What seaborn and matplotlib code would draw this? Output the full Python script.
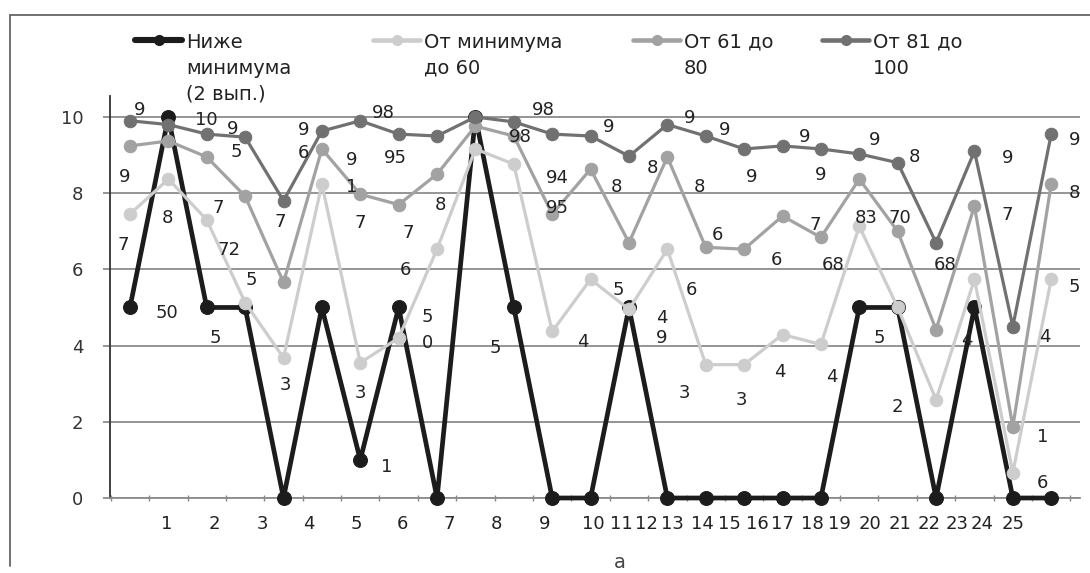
import matplotlib
matplotlib.use('Agg')
import matplotlib.pyplot as plt
from matplotlib.lines import Line2D
import pandas as pd
import seaborn as sns

# Data
points = list(range(25))
below_min = [5, 10, 5, 5, 0, 5, 1, 5, 0, 10, 5, 0, 0, 5, 0, 0, 0, 0, 0, 5, 5, 0, 5, 0, 0]
min_to_60 = [7.45, 8.37, 7.3, 5.13, 3.68, 8.24, 3.55, 4.2, 6.53, 9.16, 8.76, 4.37, 5.74,
             4.95, 6.53, 3.5, 3.5, 4.29, 4.03, 7.13, 5.0, 2.58, 5.74, 0.66, 5.74]
from_61_to_80 = [9.24, 9.37, 8.95, 7.92, 5.66, 9.16, 7.97, 7.7, 8.5, 9.76, 9.5, 7.45, 8.63,
                 6.7, 8.95, 6.58, 6.53, 7.4, 6.84, 8.37, 7.0, 4.42, 7.66, 1.87, 8.24]
from_81_to_100 = [9.9, 9.8, 9.55, 9.47, 7.8, 9.63, 9.9, 9.55, 9.5, 10.0, 9.87, 9.55, 9.5,
                  8.97, 9.8, 9.5, 9.16, 9.24, 9.16, 9.03, 8.8, 6.7, 9.1, 4.5, 9.55]
series_names = ['Ниже\nминимума\n(2 вып.)', 'От минимума\nдо 60', 'От 61 до\n80', 'От 81 до\n100']
tick_labels = [str(i) for i in range(1, 26)]
# where the (squeezed) category labels sit on the scan, in point units
tick_pos = [0.96, 2.21, 3.44, 4.66, 5.89, 7.11, 8.33, 9.56, 10.81, 12.06, 12.81, 13.46, 14.14,
            14.92, 15.63, 16.35, 17.0, 17.79, 18.49, 19.27, 20.05, 20.83, 21.56, 22.21, 23.0]

# scattered data labels: (series, point, text, dx px, dy px)
data_labels = [
    (3, 0, '9', 10, -11), (2, 0, '9', -5, 31), (1, 0, '7', -7, 31), (1, 1, '8', -1, 39),
    (3, 2, '10', 0, -14), (3, 3, '9', -12, -8), (2, 2, '5', 30, -5), (1, 2, '7', 12, -12),
    (1, 2, '72', 22, 30), (1, 3, '5', 6, -23), (3, 4, '7', -3, 21), (3, 5, '9', -18, -1),
    (2, 5, '6', -18, 4), (2, 6, '9', -9, -34), (2, 6, '1', -9, -7), (2, 6, '7', 0, 29),
    (3, 6, '98', 23, -8), (3, 7, '95', -3, 24), (2, 7, '7', 10, 28), (2, 8, '8', 3, 31),
    (1, 8, '6', -32, 21), (3, 10, '98', 29, -12), (2, 10, '98', 6, 1), (2, 11, '94', 5, -36),
    (2, 11, '95', 5, -6), (3, 12, '9', 18, -9), (2, 12, '8', 26, 18), (2, 14, '8', -15, 11),
    (2, 14, '8', 32, 30), (3, 14, '9', 22, -7), (2, 15, '6', 12, -12), (1, 12, '5', 28, 11),
    (1, 14, '6', 24, 41), (3, 15, '9', 19, -6), (3, 17, '9', 22, -9), (3, 19, '9', 15, -14),
    (3, 20, '8', 17, -6), (3, 22, '9', 33, 7), (3, 24, '9', 23, 6), (3, 16, '9', 7, 28),
    (3, 18, '9', 0, 26), (2, 16, '6', 32, 11), (2, 18, '7', -6, -12), (1, 19, '83', 7, -8),
    (2, 20, '70', 2, -13), (2, 18, '68', 12, 28), (3, 21, '68', 9, 22), (2, 22, '7', 33, 9),
    (2, 24, '8', 23, 9), (1, 24, '5', 23, 8), (1, 17, '4', -3, 37), (1, 18, '4', 11, 33),
    (1, 16, '3', -3, 35), (0, 19, '5', 20, 31), (1, 21, '2', -39, 7), (2, 21, '4', 31, 10),
    (3, 23, '4', 32, 10), (2, 23, '1', 30, 10), (1, 23, '6', 30, 10), (0, 0, '50', 37, 6),
    (0, 2, '5', 9, 31), (1, 4, '3', 2, 27), (1, 6, '3', 0, 30), (0, 6, '1', 26, 7),
    (0, 7, '5', 29, 10), (1, 7, '0', 29, 5), (0, 10, '5', -19, 41), (1, 11, '4', 31, 11),
    (1, 13, '4', 33, 9), (1, 13, '9', 33, 29), (1, 15, '3', -21, 28),
]

sns.set_theme(style='white')
plt.rcParams['font.family'] = ['DejaVu Sans']

all_series = [below_min, min_to_60, from_61_to_80, from_81_to_100]
colors = ['#1c1c1c', '#cdcdcd', '#a2a2a2', '#717171']
widths = [3.4, 2.3, 2.3, 2.3]
msizes = [10, 9, 9, 9]

fig = plt.figure(figsize=(10.9, 5.73), dpi=100)
ax = fig.add_axes([110 / 1090, 1 - 498 / 573, 970 / 1090, 402 / 573])

for i, vals in enumerate(all_series):
    sns.lineplot(x=points, y=vals, ax=ax, color=colors[i], linewidth=widths[i],
                 marker='o', markersize=msizes[i], markeredgecolor=colors[i],
                 zorder=3 + i, clip_on=False)

for s, k, txt, dx, dy in data_labels:
    ax.annotate(txt, (points[k], all_series[s][k]), xytext=(dx * 0.72, -dy * 0.72),
                textcoords='offset points', ha='center', va='center',
                fontsize=13, color='#222222', zorder=10)

ax.set_xlim(-0.52, 24.75)
ax.set_ylim(0, 10.55)
ax.set_yticks([0, 2, 4, 6, 8, 10])
ax.set_yticklabels(['0', '2', '4', '6', '8', '10'], fontsize=13, color='#333333')
ax.set_xticks(tick_pos)
ax.set_xticklabels(tick_labels, fontsize=13, color='#222222')
ax.set_xticks([k + 0.5 for k in range(-1, 25)], minor=True)
ax.tick_params(axis='x', which='major', length=0, pad=12)
ax.tick_params(axis='x', which='minor', length=4, direction='inout', color='#888888', bottom=True)
ax.tick_params(axis='y', length=5, color='#888888', left=True, pad=14)
ax.yaxis.grid(True, color='#8c8c8c', linewidth=1.3)
ax.set_axisbelow(True)
for side in ['top', 'right']:
    ax.spines[side].set_visible(False)
ax.spines['bottom'].set_color('#8c8c8c')
ax.spines['bottom'].set_linewidth(1.3)
ax.spines['left'].set_color('#333333')
ax.spines['left'].set_linewidth(1.3)
ax.set_xlabel('')
ax.set_ylabel('')

# hand-placed legend across the top, as in the scan
legend_x = [135, 373, 633, 822]
for i, name in enumerate(series_names):
    x0 = legend_x[i] / 1090
    y0 = 1 - 40 / 573
    fig.add_artist(Line2D([x0, x0 + 47 / 1090], [y0, y0], color=colors[i], lw=widths[i] + 1))
    fig.add_artist(Line2D([x0 + 23.5 / 1090], [y0], color=colors[i], marker='o', markersize=7))
    fig.text(x0 + 51 / 1090, 1 - 33 / 573, name, ha='left', va='top', fontsize=14,
             linespacing=1.45, color='#222222')

# outer frame of the scanned chart
fig.add_artist(Line2D([10 / 1090, 1], [1 - 15 / 573, 1 - 15 / 573], color='#666666', lw=1.3))
fig.add_artist(Line2D([10 / 1090, 10 / 1090], [1 - 15 / 573, 1 - 566 / 573], color='#666666', lw=1.3))
fig.text(620 / 1090, 1 - 572 / 573, 'а', ha='center', va='bottom', fontsize=14, color='#444444')

fig.savefig('out.png', dpi=100)
